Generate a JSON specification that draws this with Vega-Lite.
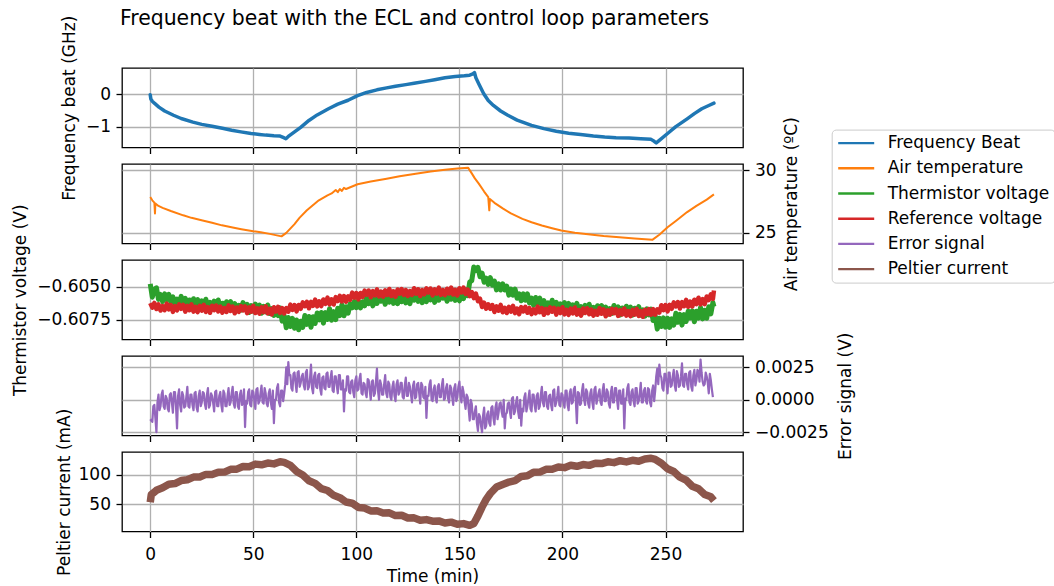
{
  "$schema": "https://vega.github.io/schema/vega-lite/v6.json",
  "padding": {"left": 10, "top": 9, "right": 0, "bottom": 2},
  "title": {
    "text": "Frequency beat with the ECL and control loop parameters",
    "anchor": "start",
    "frame": "group",
    "font": "DejaVu Sans",
    "fontSize": 20.4,
    "fontWeight": "normal",
    "color": "#000000",
    "offset": -15,
    "dx": -2
  },
  "config": {
    "font": "DejaVu Sans",
    "view": {"stroke": "#000000", "strokeWidth": 1.3},
    "axis": {
      "labelFont": "DejaVu Sans",
      "labelFontSize": 17,
      "labelColor": "#000000",
      "titleFont": "DejaVu Sans",
      "titleFontSize": 17,
      "titleFontWeight": "normal",
      "titleColor": "#000000",
      "gridColor": "#b0b0b0",
      "gridWidth": 1.3,
      "gridOpacity": 1,
      "domain": false,
      "tickColor": "#000000",
      "tickWidth": 1.3,
      "tickSize": 6,
      "labelPadding": 5.5
    },
    "axisY": {"titleAngle": 270, "titleBaseline": "alphabetic", "titleAlign": "center", "labelBaseline": "middle"},
    "axisX": {"labelBaseline": "alphabetic", "labelPadding": 21.5},
    "legend": {
      "symbolType": "stroke",
      "symbolSize": 1296,
      "symbolStrokeWidth": 2.4,
      "labelFont": "DejaVu Sans",
      "labelFontSize": 17,
      "labelColor": "#000000",
      "labelOffset": 12,
      "labelLimit": 0,
      "clipHeight": 17,
      "rowPadding": 7.2,
      "padding": 5,
      "strokeColor": "#cccccc",
      "fillColor": "#ffffff",
      "cornerRadius": 4
    }
  },
  "datasets": {
    "beat": [{"t":0,"v":-0.02},{"t":0.3,"v":-0.15},{"t":1,"v":-0.22},{"t":2,"v":-0.28},{"t":4.2,"v":-0.4},{"t":7,"v":-0.52},{"t":11.3,"v":-0.65},{"t":15,"v":-0.75},{"t":20.7,"v":-0.86},{"t":25,"v":-0.93},{"t":30,"v":-0.99},{"t":35,"v":-1.05},{"t":39.5,"v":-1.11},{"t":44,"v":-1.16},{"t":48.9,"v":-1.21},{"t":53,"v":-1.24},{"t":56,"v":-1.26},{"t":60,"v":-1.28},{"t":63,"v":-1.29},{"t":64.5,"v":-1.33},{"t":65.8,"v":-1.37},{"t":67,"v":-1.3},{"t":70,"v":-1.16},{"t":73,"v":-1.02},{"t":77,"v":-0.81},{"t":81,"v":-0.64},{"t":86.5,"v":-0.45},{"t":91,"v":-0.31},{"t":96,"v":-0.19},{"t":100.6,"v":-0.05},{"t":105,"v":0.05},{"t":110,"v":0.13},{"t":114.7,"v":0.19},{"t":119,"v":0.24},{"t":124,"v":0.29},{"t":128,"v":0.33},{"t":133.5,"v":0.39},{"t":138,"v":0.44},{"t":143,"v":0.5},{"t":148,"v":0.54},{"t":152.4,"v":0.56},{"t":155,"v":0.58},{"t":156.5,"v":0.62},{"t":157.3,"v":0.66},{"t":158,"v":0.5},{"t":159.5,"v":0.3},{"t":161.8,"v":0.01},{"t":164,"v":-0.2},{"t":166.5,"v":-0.35},{"t":170,"v":-0.52},{"t":173.5,"v":-0.65},{"t":178,"v":-0.8},{"t":185,"v":-0.96},{"t":191,"v":-1.06},{"t":197,"v":-1.14},{"t":203,"v":-1.2},{"t":208.8,"v":-1.24},{"t":215,"v":-1.29},{"t":220.5,"v":-1.32},{"t":226,"v":-1.34},{"t":232.3,"v":-1.35},{"t":238,"v":-1.37},{"t":243,"v":-1.39},{"t":244.5,"v":-1.45},{"t":245.5,"v":-1.5},{"t":247,"v":-1.42},{"t":251,"v":-1.21},{"t":255,"v":-1},{"t":260.5,"v":-0.76},{"t":264,"v":-0.6},{"t":267.6,"v":-0.45},{"t":271,"v":-0.35},{"t":273.5,"v":-0.28}],
    "air": [{"t":0,"v":27.86},{"t":1,"v":27.6},{"t":2,"v":27.42},{"t":2.3,"v":26.55},{"t":2.5,"v":27.35},{"t":4,"v":27.15},{"t":6,"v":27.0},{"t":10,"v":26.75},{"t":16,"v":26.4},{"t":20,"v":26.2},{"t":25.4,"v":25.99},{"t":30,"v":25.8},{"t":34.8,"v":25.6},{"t":40,"v":25.42},{"t":44.2,"v":25.29},{"t":50,"v":25.13},{"t":53.6,"v":25.05},{"t":58,"v":24.92},{"t":63.7,"v":24.72},{"t":66,"v":25.0},{"t":70,"v":25.7},{"t":72.4,"v":26.2},{"t":76,"v":26.8},{"t":81.8,"v":27.6},{"t":86,"v":28.0},{"t":88,"v":28.15},{"t":90,"v":28.42},{"t":91,"v":28.25},{"t":92,"v":28.5},{"t":93,"v":28.35},{"t":94,"v":28.6},{"t":95,"v":28.5},{"t":100.6,"v":28.88},{"t":107,"v":29.1},{"t":114.7,"v":29.33},{"t":121,"v":29.52},{"t":128.8,"v":29.73},{"t":136,"v":29.9},{"t":143,"v":30.05},{"t":149,"v":30.15},{"t":154.2,"v":30.21},{"t":156,"v":29.75},{"t":157.5,"v":29.35},{"t":159.4,"v":28.93},{"t":162,"v":28.3},{"t":164,"v":27.86},{"t":164.5,"v":26.8},{"t":164.8,"v":27.7},{"t":167,"v":27.4},{"t":171.2,"v":26.93},{"t":175,"v":26.55},{"t":180.6,"v":26.12},{"t":185,"v":25.85},{"t":190,"v":25.59},{"t":195,"v":25.37},{"t":199.4,"v":25.19},{"t":206,"v":25.0},{"t":213.5,"v":24.87},{"t":220,"v":24.75},{"t":227.6,"v":24.65},{"t":235,"v":24.55},{"t":243.6,"v":24.44},{"t":247,"v":24.85},{"t":251,"v":25.45},{"t":255,"v":25.95},{"t":260.5,"v":26.66},{"t":265,"v":27.15},{"t":270,"v":27.65},{"t":273.5,"v":28.07}],
    "therm": [{"t":0,"v":-0.6048},{"t":1,"v":-0.6058},{"t":2,"v":-0.6052},{"t":3,"v":-0.60509},{"t":4,"v":-0.60596},{"t":5,"v":-0.60559},{"t":6,"v":-0.60613},{"t":7,"v":-0.60555},{"t":8,"v":-0.60598},{"t":9,"v":-0.60559},{"t":10,"v":-0.60616},{"t":11,"v":-0.60577},{"t":12,"v":-0.60634},{"t":13,"v":-0.60594},{"t":14,"v":-0.60632},{"t":15,"v":-0.60574},{"t":16,"v":-0.60626},{"t":17,"v":-0.60589},{"t":18,"v":-0.60652},{"t":19,"v":-0.60601},{"t":20,"v":-0.60643},{"t":21,"v":-0.60591},{"t":22,"v":-0.60632},{"t":23,"v":-0.60598},{"t":24,"v":-0.60659},{"t":25,"v":-0.60607},{"t":26,"v":-0.60647},{"t":27,"v":-0.60595},{"t":28,"v":-0.60659},{"t":29,"v":-0.60618},{"t":30,"v":-0.60665},{"t":31,"v":-0.60609},{"t":32,"v":-0.60653},{"t":33,"v":-0.60601},{"t":34,"v":-0.60666},{"t":35,"v":-0.60625},{"t":36,"v":-0.60676},{"t":37,"v":-0.60614},{"t":38,"v":-0.60654},{"t":39,"v":-0.60613},{"t":40,"v":-0.60668},{"t":41,"v":-0.60627},{"t":42,"v":-0.60682},{"t":43,"v":-0.60641},{"t":44,"v":-0.60678},{"t":45,"v":-0.6062},{"t":46,"v":-0.60671},{"t":47,"v":-0.60633},{"t":48,"v":-0.60695},{"t":49,"v":-0.60643},{"t":50,"v":-0.60684},{"t":51,"v":-0.60632},{"t":52,"v":-0.60673},{"t":53,"v":-0.60639},{"t":54,"v":-0.60701},{"t":55,"v":-0.60649},{"t":56,"v":-0.6069},{"t":57,"v":-0.60638},{"t":58,"v":-0.60703},{"t":59,"v":-0.60666},{"t":60,"v":-0.60717},{"t":61,"v":-0.60667},{"t":62,"v":-0.60718},{"t":63,"v":-0.6066},{"t":64,"v":-0.6076},{"t":65,"v":-0.6072},{"t":66,"v":-0.6081},{"t":67,"v":-0.60732},{"t":68,"v":-0.608},{"t":69,"v":-0.60739},{"t":70,"v":-0.60813},{"t":71,"v":-0.60751},{"t":72,"v":-0.60825},{"t":73,"v":-0.60761},{"t":74,"v":-0.60807},{"t":75,"v":-0.60718},{"t":76,"v":-0.60784},{"t":77,"v":-0.60725},{"t":78,"v":-0.60806},{"t":79,"v":-0.60727},{"t":80,"v":-0.60778},{"t":81,"v":-0.60699},{"t":82,"v":-0.6075},{"t":83,"v":-0.60695},{"t":84,"v":-0.60775},{"t":85,"v":-0.60696},{"t":86,"v":-0.60747},{"t":87,"v":-0.60667},{"t":88,"v":-0.60753},{"t":89,"v":-0.60688},{"t":90,"v":-0.60749},{"t":91,"v":-0.60663},{"t":92,"v":-0.60718},{"t":93,"v":-0.60636},{"t":94,"v":-0.6072},{"t":95,"v":-0.60652},{"t":96,"v":-0.607},{"t":97,"v":-0.60629},{"t":98,"v":-0.6066},{"t":99,"v":-0.60612},{"t":100,"v":-0.60659},{"t":101,"v":-0.60612},{"t":102,"v":-0.6066},{"t":103,"v":-0.60614},{"t":104,"v":-0.60645},{"t":105,"v":-0.60582},{"t":106,"v":-0.60629},{"t":107,"v":-0.60587},{"t":108,"v":-0.60645},{"t":109,"v":-0.6059},{"t":110,"v":-0.60627},{"t":111,"v":-0.60572},{"t":112,"v":-0.6061},{"t":113,"v":-0.60574},{"t":114,"v":-0.60633},{"t":115,"v":-0.60579},{"t":116,"v":-0.60617},{"t":117,"v":-0.60563},{"t":118,"v":-0.60626},{"t":119,"v":-0.60583},{"t":120,"v":-0.60629},{"t":121,"v":-0.60571},{"t":122,"v":-0.60614},{"t":123,"v":-0.6056},{"t":124,"v":-0.60623},{"t":125,"v":-0.6058},{"t":126,"v":-0.60629},{"t":127,"v":-0.60565},{"t":128,"v":-0.60602},{"t":129,"v":-0.60559},{"t":130,"v":-0.60611},{"t":131,"v":-0.60568},{"t":132,"v":-0.60621},{"t":133,"v":-0.60578},{"t":134,"v":-0.60613},{"t":135,"v":-0.60552},{"t":136,"v":-0.606},{"t":137,"v":-0.6056},{"t":138,"v":-0.60619},{"t":139,"v":-0.60565},{"t":140,"v":-0.60603},{"t":141,"v":-0.60549},{"t":142,"v":-0.60587},{"t":143,"v":-0.60551},{"t":144,"v":-0.6061},{"t":145,"v":-0.60556},{"t":146,"v":-0.60595},{"t":147,"v":-0.60541},{"t":148,"v":-0.60604},{"t":149,"v":-0.60561},{"t":150,"v":-0.60607},{"t":151,"v":-0.60548},{"t":152,"v":-0.6059},{"t":153,"v":-0.60525},{"t":154,"v":-0.60568},{"t":155,"v":-0.60466},{"t":156,"v":-0.60455},{"t":157,"v":-0.60352},{"t":158,"v":-0.6038},{"t":159,"v":-0.60356},{"t":160,"v":-0.60426},{"t":161,"v":-0.60399},{"t":162,"v":-0.60467},{"t":163,"v":-0.60437},{"t":164,"v":-0.60483},{"t":165,"v":-0.60432},{"t":166,"v":-0.60489},{"t":167,"v":-0.60458},{"t":168,"v":-0.60525},{"t":169,"v":-0.6048},{"t":170,"v":-0.60526},{"t":171,"v":-0.6048},{"t":172,"v":-0.60525},{"t":173,"v":-0.60497},{"t":174,"v":-0.60564},{"t":175,"v":-0.60519},{"t":176,"v":-0.60565},{"t":177,"v":-0.60519},{"t":178,"v":-0.60588},{"t":179,"v":-0.60554},{"t":180,"v":-0.60607},{"t":181,"v":-0.60555},{"t":182,"v":-0.60603},{"t":183,"v":-0.60555},{"t":184,"v":-0.60624},{"t":185,"v":-0.60587},{"t":186,"v":-0.60641},{"t":187,"v":-0.60582},{"t":188,"v":-0.60625},{"t":189,"v":-0.60587},{"t":190,"v":-0.60644},{"t":191,"v":-0.60605},{"t":192,"v":-0.60662},{"t":193,"v":-0.60623},{"t":194,"v":-0.60661},{"t":195,"v":-0.60603},{"t":196,"v":-0.60655},{"t":197,"v":-0.60618},{"t":198,"v":-0.60681},{"t":199,"v":-0.6063},{"t":200,"v":-0.60671},{"t":201,"v":-0.6062},{"t":202,"v":-0.60661},{"t":203,"v":-0.60627},{"t":204,"v":-0.60689},{"t":205,"v":-0.60637},{"t":206,"v":-0.60678},{"t":207,"v":-0.60626},{"t":208,"v":-0.60691},{"t":209,"v":-0.6065},{"t":210,"v":-0.60697},{"t":211,"v":-0.60641},{"t":212,"v":-0.60685},{"t":213,"v":-0.60633},{"t":214,"v":-0.60697},{"t":215,"v":-0.60656},{"t":216,"v":-0.60706},{"t":217,"v":-0.60644},{"t":218,"v":-0.60683},{"t":219,"v":-0.60642},{"t":220,"v":-0.60696},{"t":221,"v":-0.60654},{"t":222,"v":-0.60708},{"t":223,"v":-0.60666},{"t":224,"v":-0.60702},{"t":225,"v":-0.60642},{"t":226,"v":-0.60692},{"t":227,"v":-0.60653},{"t":228,"v":-0.60714},{"t":229,"v":-0.60661},{"t":230,"v":-0.60701},{"t":231,"v":-0.60648},{"t":232,"v":-0.60688},{"t":233,"v":-0.60654},{"t":234,"v":-0.60715},{"t":235,"v":-0.60663},{"t":236,"v":-0.60703},{"t":237,"v":-0.60651},{"t":238,"v":-0.60716},{"t":239,"v":-0.60675},{"t":240,"v":-0.60723},{"t":241,"v":-0.60668},{"t":242,"v":-0.60713},{"t":243,"v":-0.6067},{"t":244,"v":-0.60755},{"t":245,"v":-0.60722},{"t":246,"v":-0.6082},{"t":247,"v":-0.60738},{"t":248,"v":-0.608},{"t":249,"v":-0.60735},{"t":250,"v":-0.60805},{"t":251,"v":-0.60738},{"t":252,"v":-0.60807},{"t":253,"v":-0.60743},{"t":254,"v":-0.6079},{"t":255,"v":-0.60701},{"t":256,"v":-0.60768},{"t":257,"v":-0.60709},{"t":258,"v":-0.6079},{"t":259,"v":-0.60711},{"t":260,"v":-0.60763},{"t":261,"v":-0.60685},{"t":262,"v":-0.60736},{"t":263,"v":-0.60682},{"t":264,"v":-0.60764},{"t":265,"v":-0.60685},{"t":266,"v":-0.60737},{"t":267,"v":-0.60657},{"t":268,"v":-0.60743},{"t":269,"v":-0.60678},{"t":270,"v":-0.60738},{"t":271,"v":-0.60651},{"t":272,"v":-0.60705},{"t":273,"v":-0.6062},{"t":273.5,"v":-0.6065}],
    "ref": [{"t":0,"v":-0.60624},{"t":1,"v":-0.60658},{"t":2,"v":-0.60623},{"t":3,"v":-0.60669},{"t":4,"v":-0.60634},{"t":5,"v":-0.6068},{"t":6,"v":-0.60646},{"t":7,"v":-0.60677},{"t":8,"v":-0.60628},{"t":9,"v":-0.60671},{"t":10,"v":-0.60639},{"t":11,"v":-0.6069},{"t":12,"v":-0.60646},{"t":13,"v":-0.60679},{"t":14,"v":-0.60634},{"t":15,"v":-0.60667},{"t":16,"v":-0.60638},{"t":17,"v":-0.60689},{"t":18,"v":-0.60645},{"t":19,"v":-0.60678},{"t":20,"v":-0.60634},{"t":21,"v":-0.60688},{"t":22,"v":-0.60653},{"t":23,"v":-0.60692},{"t":24,"v":-0.60645},{"t":25,"v":-0.60681},{"t":26,"v":-0.60637},{"t":27,"v":-0.60691},{"t":28,"v":-0.60655},{"t":29,"v":-0.60697},{"t":30,"v":-0.60644},{"t":31,"v":-0.60677},{"t":32,"v":-0.60642},{"t":33,"v":-0.60687},{"t":34,"v":-0.60651},{"t":35,"v":-0.60696},{"t":36,"v":-0.60661},{"t":37,"v":-0.60691},{"t":38,"v":-0.60641},{"t":39,"v":-0.60683},{"t":40,"v":-0.6065},{"t":41,"v":-0.60701},{"t":42,"v":-0.60657},{"t":43,"v":-0.6069},{"t":44,"v":-0.60646},{"t":45,"v":-0.60679},{"t":46,"v":-0.60649},{"t":47,"v":-0.607},{"t":48,"v":-0.60656},{"t":49,"v":-0.60689},{"t":50,"v":-0.60645},{"t":51,"v":-0.60699},{"t":52,"v":-0.60664},{"t":53,"v":-0.60703},{"t":54,"v":-0.60656},{"t":55,"v":-0.60692},{"t":56,"v":-0.60648},{"t":57,"v":-0.60702},{"t":58,"v":-0.60667},{"t":59,"v":-0.60709},{"t":60,"v":-0.60655},{"t":61,"v":-0.60688},{"t":62,"v":-0.60653},{"t":63,"v":-0.60698},{"t":64,"v":-0.60661},{"t":65,"v":-0.60702},{"t":66,"v":-0.60662},{"t":67,"v":-0.60689},{"t":68,"v":-0.60636},{"t":69,"v":-0.60675},{"t":70,"v":-0.60639},{"t":71,"v":-0.60686},{"t":72,"v":-0.60638},{"t":73,"v":-0.60667},{"t":74,"v":-0.60619},{"t":75,"v":-0.60648},{"t":76,"v":-0.60615},{"t":77,"v":-0.60663},{"t":78,"v":-0.60615},{"t":79,"v":-0.60645},{"t":80,"v":-0.60598},{"t":81,"v":-0.60649},{"t":82,"v":-0.60611},{"t":83,"v":-0.60647},{"t":84,"v":-0.60597},{"t":85,"v":-0.6063},{"t":86,"v":-0.60583},{"t":87,"v":-0.60634},{"t":88,"v":-0.60596},{"t":89,"v":-0.60635},{"t":90,"v":-0.60579},{"t":91,"v":-0.60609},{"t":92,"v":-0.6057},{"t":93,"v":-0.60611},{"t":94,"v":-0.60572},{"t":95,"v":-0.60613},{"t":96,"v":-0.60573},{"t":97,"v":-0.60599},{"t":98,"v":-0.60545},{"t":99,"v":-0.60584},{"t":100,"v":-0.60548},{"t":101,"v":-0.60596},{"t":102,"v":-0.60548},{"t":103,"v":-0.60578},{"t":104,"v":-0.6053},{"t":105,"v":-0.60561},{"t":106,"v":-0.6053},{"t":107,"v":-0.6058},{"t":108,"v":-0.60534},{"t":109,"v":-0.60566},{"t":110,"v":-0.60521},{"t":111,"v":-0.60574},{"t":112,"v":-0.60538},{"t":113,"v":-0.60576},{"t":114,"v":-0.60528},{"t":115,"v":-0.60563},{"t":116,"v":-0.60518},{"t":117,"v":-0.60571},{"t":118,"v":-0.60535},{"t":119,"v":-0.60576},{"t":120,"v":-0.60522},{"t":121,"v":-0.60554},{"t":122,"v":-0.60518},{"t":123,"v":-0.60562},{"t":124,"v":-0.60526},{"t":125,"v":-0.6057},{"t":126,"v":-0.60534},{"t":127,"v":-0.60563},{"t":128,"v":-0.60512},{"t":129,"v":-0.60553},{"t":130,"v":-0.6052},{"t":131,"v":-0.60571},{"t":132,"v":-0.60526},{"t":133,"v":-0.60558},{"t":134,"v":-0.60513},{"t":135,"v":-0.60545},{"t":136,"v":-0.60515},{"t":137,"v":-0.60566},{"t":138,"v":-0.60521},{"t":139,"v":-0.60553},{"t":140,"v":-0.60508},{"t":141,"v":-0.60562},{"t":142,"v":-0.60526},{"t":143,"v":-0.60564},{"t":144,"v":-0.60516},{"t":145,"v":-0.60552},{"t":146,"v":-0.60507},{"t":147,"v":-0.6056},{"t":148,"v":-0.60524},{"t":149,"v":-0.60566},{"t":150,"v":-0.60512},{"t":151,"v":-0.60544},{"t":152,"v":-0.60508},{"t":153,"v":-0.60555},{"t":154,"v":-0.60522},{"t":155,"v":-0.60572},{"t":156,"v":-0.60541},{"t":157,"v":-0.60587},{"t":158,"v":-0.60553},{"t":159,"v":-0.6061},{"t":160,"v":-0.60591},{"t":161,"v":-0.60654},{"t":162,"v":-0.60621},{"t":163,"v":-0.60666},{"t":164,"v":-0.60633},{"t":165,"v":-0.60667},{"t":166,"v":-0.60639},{"t":167,"v":-0.60691},{"t":168,"v":-0.60648},{"t":169,"v":-0.60682},{"t":170,"v":-0.60638},{"t":171,"v":-0.60693},{"t":172,"v":-0.60659},{"t":173,"v":-0.60699},{"t":174,"v":-0.60653},{"t":175,"v":-0.60689},{"t":176,"v":-0.60645},{"t":177,"v":-0.607},{"t":178,"v":-0.60665},{"t":179,"v":-0.60707},{"t":180,"v":-0.60654},{"t":181,"v":-0.60687},{"t":182,"v":-0.60652},{"t":183,"v":-0.60697},{"t":184,"v":-0.60662},{"t":185,"v":-0.60707},{"t":186,"v":-0.60671},{"t":187,"v":-0.60701},{"t":188,"v":-0.60651},{"t":189,"v":-0.60693},{"t":190,"v":-0.60661},{"t":191,"v":-0.60712},{"t":192,"v":-0.60667},{"t":193,"v":-0.607},{"t":194,"v":-0.60656},{"t":195,"v":-0.60689},{"t":196,"v":-0.6066},{"t":197,"v":-0.60711},{"t":198,"v":-0.60666},{"t":199,"v":-0.60699},{"t":200,"v":-0.60655},{"t":201,"v":-0.60709},{"t":202,"v":-0.60674},{"t":203,"v":-0.60713},{"t":204,"v":-0.60666},{"t":205,"v":-0.60702},{"t":206,"v":-0.60657},{"t":207,"v":-0.60711},{"t":208,"v":-0.60676},{"t":209,"v":-0.60718},{"t":210,"v":-0.60665},{"t":211,"v":-0.60698},{"t":212,"v":-0.60663},{"t":213,"v":-0.60708},{"t":214,"v":-0.60673},{"t":215,"v":-0.60718},{"t":216,"v":-0.60682},{"t":217,"v":-0.60712},{"t":218,"v":-0.60662},{"t":219,"v":-0.60704},{"t":220,"v":-0.60672},{"t":221,"v":-0.60723},{"t":222,"v":-0.60678},{"t":223,"v":-0.60711},{"t":224,"v":-0.60667},{"t":225,"v":-0.607},{"t":226,"v":-0.6067},{"t":227,"v":-0.60721},{"t":228,"v":-0.60677},{"t":229,"v":-0.6071},{"t":230,"v":-0.60665},{"t":231,"v":-0.60719},{"t":232,"v":-0.60684},{"t":233,"v":-0.60723},{"t":234,"v":-0.60675},{"t":235,"v":-0.60711},{"t":236,"v":-0.60667},{"t":237,"v":-0.60721},{"t":238,"v":-0.60685},{"t":239,"v":-0.60727},{"t":240,"v":-0.60674},{"t":241,"v":-0.60707},{"t":242,"v":-0.6067},{"t":243,"v":-0.60711},{"t":244,"v":-0.6067},{"t":245,"v":-0.60711},{"t":246,"v":-0.60671},{"t":247,"v":-0.60696},{"t":248,"v":-0.6064},{"t":249,"v":-0.60677},{"t":250,"v":-0.60639},{"t":251,"v":-0.60686},{"t":252,"v":-0.60637},{"t":253,"v":-0.60667},{"t":254,"v":-0.60619},{"t":255,"v":-0.60649},{"t":256,"v":-0.60616},{"t":257,"v":-0.60665},{"t":258,"v":-0.60617},{"t":259,"v":-0.60648},{"t":260,"v":-0.606},{"t":261,"v":-0.60652},{"t":262,"v":-0.60613},{"t":263,"v":-0.6065},{"t":264,"v":-0.60599},{"t":265,"v":-0.60632},{"t":266,"v":-0.60584},{"t":267,"v":-0.60634},{"t":268,"v":-0.60594},{"t":269,"v":-0.60632},{"t":270,"v":-0.60574},{"t":271,"v":-0.60601},{"t":272,"v":-0.60558},{"t":273,"v":-0.60593},{"t":273.5,"v":-0.6053}],
    "err": [{"t":0,"v":-0.0015},{"t":1,"v":-0.0017},{"t":2,"v":-0.0004},{"t":3,"v":-0.0025},{"t":4,"v":0.0004},{"t":5,"v":-0.0005},{"t":6,"v":0.0007},{"t":7,"v":-0.0007},{"t":8,"v":0.0001},{"t":9,"v":-0.0009},{"t":10,"v":0.0005},{"t":11,"v":-0.001},{"t":12,"v":0.0006},{"t":13,"v":-0.0022},{"t":14,"v":0.0008},{"t":15,"v":-0.0009},{"t":16,"v":0.0003},{"t":17,"v":-0.0005},{"t":18,"v":0.001},{"t":19,"v":-0.0006},{"t":20,"v":0.0004},{"t":21,"v":-0.0008},{"t":22,"v":0.0006},{"t":23,"v":-0.0009},{"t":24,"v":0.0007},{"t":25,"v":-0.0002},{"t":26,"v":0.0005},{"t":27,"v":-0.0007},{"t":28,"v":0.0009},{"t":29,"v":-0.0004},{"t":30,"v":0.0003},{"t":31,"v":-0.0009},{"t":32,"v":0.0007},{"t":33,"v":-0.0005},{"t":34,"v":0.0006},{"t":35,"v":-0.0009},{"t":36,"v":0.0005},{"t":37,"v":-0.0005},{"t":38,"v":0.0009},{"t":39,"v":-0.0002},{"t":40,"v":0.001},{"t":41,"v":-0.0006},{"t":42,"v":0.0006},{"t":43,"v":-0.0007},{"t":44,"v":0.0007},{"t":45,"v":-0.0002},{"t":46,"v":-0.0021},{"t":47,"v":-0.0003},{"t":48,"v":0.0008},{"t":49,"v":-0.0005},{"t":50,"v":0.0006},{"t":51,"v":-0.0007},{"t":52,"v":0.0009},{"t":53,"v":-0.0001},{"t":54,"v":0.0011},{"t":55,"v":-0.0003},{"t":56,"v":0.0005},{"t":57,"v":-0.0005},{"t":58,"v":0.0008},{"t":59,"v":-0.0007},{"t":60,"v":-0.0018},{"t":61,"v":0},{"t":62,"v":0.0012},{"t":63,"v":-0.0005},{"t":64,"v":0.0007},{"t":65,"v":0.0005},{"t":66,"v":0.0025},{"t":67,"v":0.0029},{"t":68,"v":0.0019},{"t":69,"v":0.0007},{"t":70,"v":0.0021},{"t":71,"v":0.0006},{"t":72,"v":0.0022},{"t":73,"v":0.0013},{"t":74,"v":0.002},{"t":75,"v":0.0008},{"t":76,"v":0.0023},{"t":77,"v":0.001},{"t":78,"v":0.0027},{"t":79,"v":0.0005},{"t":80,"v":0.0021},{"t":81,"v":0.0009},{"t":82,"v":0.002},{"t":83,"v":0.0004},{"t":84,"v":0.0018},{"t":85,"v":0.0008},{"t":86,"v":0.0021},{"t":87,"v":0.001},{"t":88,"v":0.0022},{"t":89,"v":0.0006},{"t":90,"v":0.0018},{"t":91,"v":0.0005},{"t":92,"v":0.0019},{"t":93,"v":0.0008},{"t":94,"v":-0.0009},{"t":95,"v":0.0007},{"t":96,"v":0.0018},{"t":97,"v":0.0005},{"t":98,"v":0.0015},{"t":99,"v":0.0002},{"t":100,"v":0.0018},{"t":101,"v":0.0008},{"t":102,"v":0.002},{"t":103,"v":0.0004},{"t":104,"v":0.0012},{"t":105,"v":0.0002},{"t":106,"v":0.0015},{"t":107,"v":0},{"t":108,"v":0.0015},{"t":109,"v":0.0005},{"t":110,"v":0.0024},{"t":111,"v":0},{"t":112,"v":0.0012},{"t":113,"v":0.0004},{"t":114,"v":0.0019},{"t":115,"v":0.0002},{"t":116,"v":0.0012},{"t":117,"v":0},{"t":118,"v":0.0014},{"t":119,"v":-0.0001},{"t":120,"v":0.0015},{"t":121,"v":0.0006},{"t":122,"v":0.0013},{"t":123,"v":0.0001},{"t":124,"v":0.0017},{"t":125,"v":0.0003},{"t":126,"v":0.001},{"t":127,"v":-0.0002},{"t":128,"v":0.0014},{"t":129,"v":0.0002},{"t":130,"v":0.0013},{"t":131,"v":-0.0003},{"t":132,"v":0.0011},{"t":133,"v":0.0001},{"t":134,"v":-0.0014},{"t":135,"v":0.0003},{"t":136,"v":0.0015},{"t":137,"v":-0.0001},{"t":138,"v":0.0011},{"t":139,"v":-0.0002},{"t":140,"v":0.0012},{"t":141,"v":0.0002},{"t":142,"v":0.0016},{"t":143,"v":0.0001},{"t":144,"v":0.0012},{"t":145,"v":-0.0002},{"t":146,"v":0.0009},{"t":147,"v":-0.0004},{"t":148,"v":0.0012},{"t":149,"v":0.0002},{"t":150,"v":0.0014},{"t":151,"v":-0.0002},{"t":152,"v":0.0006},{"t":153,"v":-0.0007},{"t":154,"v":0.0002},{"t":155,"v":-0.0016},{"t":156,"v":-0.0003},{"t":157,"v":-0.0015},{"t":158,"v":-0.0005},{"t":159,"v":-0.0024},{"t":160,"v":-0.0013},{"t":161,"v":-0.0025},{"t":162,"v":-0.0006},{"t":163,"v":-0.002},{"t":164,"v":-0.0009},{"t":165,"v":-0.002},{"t":166,"v":-0.0005},{"t":167,"v":-0.0019},{"t":168,"v":-0.0002},{"t":169,"v":-0.001},{"t":170,"v":-0.0002},{"t":171,"v":-0.0013},{"t":172,"v":-0.0022},{"t":173,"v":-0.001},{"t":174,"v":-0.0002},{"t":175,"v":-0.0014},{"t":176,"v":0.0002},{"t":177,"v":-0.0009},{"t":178,"v":0.0002},{"t":179,"v":-0.0014},{"t":180,"v":-0.002},{"t":181,"v":-0.0009},{"t":182,"v":0.0005},{"t":183,"v":-0.0005},{"t":184,"v":0.0007},{"t":185,"v":-0.0009},{"t":186,"v":0.0004},{"t":187,"v":-0.0009},{"t":188,"v":0.0005},{"t":189,"v":-0.0005},{"t":190,"v":0.001},{"t":191,"v":-0.0005},{"t":192,"v":0.0006},{"t":193,"v":-0.0007},{"t":194,"v":0.0004},{"t":195,"v":-0.0008},{"t":196,"v":0.0008},{"t":197,"v":-0.0002},{"t":198,"v":0.001},{"t":199,"v":-0.0005},{"t":200,"v":0.0004},{"t":201,"v":-0.0006},{"t":202,"v":0.0007},{"t":203,"v":-0.0008},{"t":204,"v":0.0008},{"t":205,"v":-0.0002},{"t":206,"v":0.001},{"t":207,"v":-0.0018},{"t":208,"v":0.0005},{"t":209,"v":-0.0003},{"t":210,"v":0.0012},{"t":211,"v":-0.0004},{"t":212,"v":0.0006},{"t":213,"v":-0.0006},{"t":214,"v":0.0008},{"t":215,"v":-0.0007},{"t":216,"v":0.001},{"t":217,"v":0.0001},{"t":218,"v":0.0008},{"t":219,"v":-0.0004},{"t":220,"v":0.0012},{"t":221,"v":-0.0001},{"t":222,"v":0.0006},{"t":223,"v":-0.0006},{"t":224,"v":0.001},{"t":225,"v":-0.0002},{"t":226,"v":0.0009},{"t":227,"v":-0.0007},{"t":228,"v":0.0007},{"t":229,"v":-0.0003},{"t":230,"v":-0.0022},{"t":231,"v":0},{"t":232,"v":0.0012},{"t":233,"v":-0.0004},{"t":234,"v":0.0008},{"t":235,"v":-0.0005},{"t":236,"v":0.0009},{"t":237,"v":-0.0001},{"t":238,"v":0.0013},{"t":239,"v":-0.0002},{"t":240,"v":0.0009},{"t":241,"v":-0.0003},{"t":242,"v":0.0008},{"t":243,"v":-0.0005},{"t":244,"v":0.0011},{"t":245,"v":0.0007},{"t":246,"v":0.0024},{"t":247,"v":0.0027},{"t":248,"v":0.0017},{"t":249,"v":0.0007},{"t":250,"v":0.002},{"t":251,"v":0.0005},{"t":252,"v":0.0021},{"t":253,"v":0.0011},{"t":254,"v":0.0023},{"t":255,"v":0.0007},{"t":256,"v":0.0019},{"t":257,"v":0.0011},{"t":258,"v":0.0028},{"t":259,"v":0.001},{"t":260,"v":0.002},{"t":261,"v":0.0008},{"t":262,"v":0.0022},{"t":263,"v":0.0007},{"t":264,"v":0.0023},{"t":265,"v":0.0015},{"t":266,"v":0.0022},{"t":267,"v":0.0031},{"t":268,"v":0.0014},{"t":269,"v":0.0012},{"t":270,"v":0.0018},{"t":271,"v":0.0005},{"t":272,"v":0.0015},{"t":273,"v":0.0002},
      {"t":0.5,"v":-0.0016},{"t":1.5,"v":-0.0005},{"t":2.5,"v":-0.0014},{"t":3.5,"v":-0.0002},{"t":4.5,"v":-0.0008},{"t":5.5,"v":0.0004},{"t":6.5,"v":-0.0005},{"t":7.5,"v":0.0003},{"t":8.5,"v":-0.0007},{"t":9.5,"v":0.0004},{"t":10.5,"v":-0.0002},{"t":11.5,"v":0.0006},{"t":12.5,"v":-0.0005},{"t":13.5,"v":0.0003},{"t":14.5,"v":-0.0004},{"t":15.5,"v":0.0006},{"t":16.5,"v":-0.0006},{"t":17.5,"v":0.0002},{"t":18.5,"v":-0.0005},{"t":19.5,"v":0.0004},{"t":20.5,"v":-0.0004},{"t":21.5,"v":0.0005},{"t":22.5,"v":-0.0006},{"t":23.5,"v":0.0003},{"t":24.5,"v":-0.0005},{"t":25.5,"v":0.0006},{"t":26.5,"v":-0.0003},{"t":27.5,"v":0.0004},{"t":28.5,"v":-0.0006},{"t":29.5,"v":0.0005},{"t":30.5,"v":-0.0002},{"t":31.5,"v":0.0006},{"t":32.5,"v":-0.0005},{"t":33.5,"v":0.0003},{"t":34.5,"v":-0.0004},{"t":35.5,"v":0.0007},{"t":36.5,"v":-0.0005},{"t":37.5,"v":0.0003},{"t":38.5,"v":-0.0004},{"t":39.5,"v":0.0005},{"t":40.5,"v":-0.0003},{"t":41.5,"v":0.0006},{"t":42.5,"v":-0.0005},{"t":43.5,"v":0.0004},{"t":44.5,"v":-0.0004},{"t":45.5,"v":0.0008},{"t":46.5,"v":-0.0001},{"t":47.5,"v":0.0006},{"t":48.5,"v":-0.0004},{"t":49.5,"v":0.0007},{"t":50.5,"v":0},{"t":51.5,"v":0.0008},{"t":52.5,"v":-0.0003},{"t":53.5,"v":0.0005},{"t":54.5,"v":-0.0002},{"t":55.5,"v":0.0009},{"t":56.5,"v":-0.0003},{"t":57.5,"v":0.0005},{"t":58.5,"v":-0.0002},{"t":59.5,"v":0.0007},{"t":60.5,"v":0},{"t":61.5,"v":0.0009},{"t":62.5,"v":-0.0002},{"t":63.5,"v":0.0007},{"t":64.5,"v":-0.0001},{"t":65.5,"v":0.0012},{"t":66.5,"v":0.0012},{"t":67.5,"v":0.0019},{"t":68.5,"v":0.0009},{"t":69.5,"v":0.002},{"t":70.5,"v":0.0013},{"t":71.5,"v":0.0021},{"t":72.5,"v":0.001},{"t":73.5,"v":0.0018},{"t":74.5,"v":0.0011},{"t":75.5,"v":0.0021},{"t":76.5,"v":0.0008},{"t":77.5,"v":0.0016},{"t":78.5,"v":0.0009},{"t":79.5,"v":0.0018},{"t":80.5,"v":0.001},{"t":81.5,"v":0.0019},{"t":82.5,"v":0.0008},{"t":83.5,"v":0.0017},{"t":84.5,"v":0.0009},{"t":85.5,"v":0.002},{"t":86.5,"v":0.001},{"t":87.5,"v":0.0017},{"t":88.5,"v":0.0007},{"t":89.5,"v":0.0018},{"t":90.5,"v":0.0011},{"t":91.5,"v":0.0019},{"t":92.5,"v":0.0008},{"t":93.5,"v":0.0015},{"t":94.5,"v":0.0008},{"t":95.5,"v":0.0018},{"t":96.5,"v":0.0006},{"t":97.5,"v":0.0014},{"t":98.5,"v":0.0006},{"t":99.5,"v":0.0015},{"t":100.5,"v":0.0007},{"t":101.5,"v":0.0016},{"t":102.5,"v":0.0005},{"t":103.5,"v":0.0013},{"t":104.5,"v":0.0005},{"t":105.5,"v":0.0016},{"t":106.5,"v":0.0007},{"t":107.5,"v":0.0014},{"t":108.5,"v":0.0003},{"t":109.5,"v":0.0014},{"t":110.5,"v":0.0007},{"t":111.5,"v":0.0015},{"t":112.5,"v":0.0004},{"t":113.5,"v":0.0012},{"t":114.5,"v":0.0005},{"t":115.5,"v":0.0014},{"t":116.5,"v":0.0002},{"t":117.5,"v":0.001},{"t":118.5,"v":0.0003},{"t":119.5,"v":0.0012},{"t":120.5,"v":0.0004},{"t":121.5,"v":0.0013},{"t":122.5,"v":0.0002},{"t":123.5,"v":0.0011},{"t":124.5,"v":0.0003},{"t":125.5,"v":0.0013},{"t":126.5,"v":0.0004},{"t":127.5,"v":0.0011},{"t":128.5,"v":0.0001},{"t":129.5,"v":0.0012},{"t":130.5,"v":0.0005},{"t":131.5,"v":0.0013},{"t":132.5,"v":0.0002},{"t":133.5,"v":0.001},{"t":134.5,"v":0.0003},{"t":135.5,"v":0.0012},{"t":136.5,"v":0},{"t":137.5,"v":0.0008},{"t":138.5,"v":0.0001},{"t":139.5,"v":0.001},{"t":140.5,"v":0.0002},{"t":141.5,"v":0.0011},{"t":142.5,"v":0},{"t":143.5,"v":0.0009},{"t":144.5,"v":0.0001},{"t":145.5,"v":0.0011},{"t":146.5,"v":0.0002},{"t":147.5,"v":0.0009},{"t":148.5,"v":-0.0001},{"t":149.5,"v":0.001},{"t":150.5,"v":0.0003},{"t":151.5,"v":0.001},{"t":152.5,"v":-0.0001},{"t":153.5,"v":0.0004},{"t":154.5,"v":-0.0007},{"t":155.5,"v":0},{"t":156.5,"v":-0.0015},{"t":157.5,"v":-0.0009},{"t":158.5,"v":-0.0018},{"t":159.5,"v":-0.0011},{"t":160.5,"v":-0.002},{"t":161.5,"v":-0.0012},{"t":162.5,"v":-0.0022},{"t":163.5,"v":-0.0011},{"t":164.5,"v":-0.0018},{"t":165.5,"v":-0.0006},{"t":166.5,"v":-0.0014},{"t":167.5,"v":-0.0006},{"t":168.5,"v":-0.0015},{"t":169.5,"v":-0.0003},{"t":170.5,"v":-0.0009},{"t":171.5,"v":0},{"t":172.5,"v":-0.0011},{"t":173.5,"v":-0.0003},{"t":174.5,"v":-0.0009},{"t":175.5,"v":0.0001},{"t":176.5,"v":-0.0011},{"t":177.5,"v":-0.0002},{"t":178.5,"v":-0.0009},{"t":179.5,"v":0},{"t":180.5,"v":-0.0007},{"t":181.5,"v":0.0002},{"t":182.5,"v":-0.0009},{"t":183.5,"v":0.0001},{"t":184.5,"v":-0.0007},{"t":185.5,"v":0.0004},{"t":186.5,"v":-0.0004},{"t":187.5,"v":0.0003},{"t":188.5,"v":-0.0007},{"t":189.5,"v":0.0004},{"t":190.5,"v":-0.0002},{"t":191.5,"v":0.0006},{"t":192.5,"v":-0.0005},{"t":193.5,"v":0.0003},{"t":194.5,"v":-0.0004},{"t":195.5,"v":0.0007},{"t":196.5,"v":-0.0005},{"t":197.5,"v":0.0003},{"t":198.5,"v":-0.0004},{"t":199.5,"v":0.0005},{"t":200.5,"v":-0.0002},{"t":201.5,"v":0.0007},{"t":202.5,"v":-0.0004},{"t":203.5,"v":0.0005},{"t":204.5,"v":-0.0003},{"t":205.5,"v":0.0008},{"t":206.5,"v":-0.0001},{"t":207.5,"v":0.0006},{"t":208.5,"v":-0.0004},{"t":209.5,"v":0.0007},{"t":210.5,"v":0},{"t":211.5,"v":0.0008},{"t":212.5,"v":-0.0003},{"t":213.5,"v":0.0005},{"t":214.5,"v":-0.0002},{"t":215.5,"v":0.0008},{"t":216.5,"v":-0.0003},{"t":217.5,"v":0.0005},{"t":218.5,"v":-0.0002},{"t":219.5,"v":0.0007},{"t":220.5,"v":-0.0001},{"t":221.5,"v":0.0008},{"t":222.5,"v":-0.0003},{"t":223.5,"v":0.0006},{"t":224.5,"v":-0.0002},{"t":225.5,"v":0.0009},{"t":226.5,"v":0},{"t":227.5,"v":0.0007},{"t":228.5,"v":-0.0003},{"t":229.5,"v":0.0008},{"t":230.5,"v":0.0001},{"t":231.5,"v":0.0009},{"t":232.5,"v":-0.0002},{"t":233.5,"v":0.0006},{"t":234.5,"v":-0.0001},{"t":235.5,"v":0.0009},{"t":236.5,"v":-0.0003},{"t":237.5,"v":0.0005},{"t":238.5,"v":-0.0002},{"t":239.5,"v":0.0007},{"t":240.5,"v":-0.0001},{"t":241.5,"v":0.0009},{"t":242.5,"v":-0.0002},{"t":243.5,"v":0.0007},{"t":244.5,"v":-0.0001},{"t":245.5,"v":0.0018},{"t":246.5,"v":0.0012},{"t":247.5,"v":0.0019},{"t":248.5,"v":0.0009},{"t":249.5,"v":0.002},{"t":250.5,"v":0.0013},{"t":251.5,"v":0.0021},{"t":252.5,"v":0.001},{"t":253.5,"v":0.0018},{"t":254.5,"v":0.0011},{"t":255.5,"v":0.0022},{"t":256.5,"v":0.001},{"t":257.5,"v":0.0018},{"t":258.5,"v":0.0011},{"t":259.5,"v":0.002},{"t":260.5,"v":0.0012},{"t":261.5,"v":0.0021},{"t":262.5,"v":0.001},{"t":263.5,"v":0.0019},{"t":264.5,"v":0.0011},{"t":265.5,"v":0.0023},{"t":266.5,"v":0.0014},{"t":267.5,"v":0.0021},{"t":268.5,"v":0.0011},{"t":269.5,"v":0.0021},{"t":270.5,"v":0.0013},{"t":271.5,"v":0.002},{"t":272.5,"v":0.0008}],
    "pelt": [{"t":0,"v":53},{"t":0.5,"v":66},{"t":3,"v":73.5},{"t":6,"v":77.8},{"t":9,"v":83.8},{"t":12,"v":84.9},{"t":15,"v":90.1},{"t":18,"v":91.4},{"t":21,"v":95.9},{"t":24,"v":96},{"t":27,"v":100.5},{"t":30,"v":100.3},{"t":33,"v":104.3},{"t":36,"v":104.4},{"t":39,"v":109.1},{"t":42,"v":109.4},{"t":45,"v":113.9},{"t":48,"v":113.5},{"t":51,"v":118},{"t":54,"v":116.8},{"t":57,"v":119.8},{"t":60,"v":118.4},{"t":63,"v":122.1},{"t":65,"v":121},{"t":68,"v":116},{"t":71,"v":105.5},{"t":74,"v":99.5},{"t":77,"v":89.8},{"t":80,"v":85.3},{"t":83,"v":76.4},{"t":86,"v":73.1},{"t":89,"v":64.9},{"t":92,"v":60.9},{"t":95,"v":53.5},{"t":98,"v":51.5},{"t":101,"v":44.3},{"t":104,"v":43.3},{"t":107,"v":38.4},{"t":110,"v":38.6},{"t":113,"v":34.9},{"t":116,"v":35.2},{"t":119,"v":30.5},{"t":122,"v":31},{"t":125,"v":26.3},{"t":128,"v":26.6},{"t":131,"v":22.4},{"t":134,"v":23.6},{"t":137,"v":20.9},{"t":140,"v":21.4},{"t":143,"v":17.8},{"t":146,"v":19.3},{"t":149,"v":15.8},{"t":152,"v":16.8},{"t":155,"v":13.9},{"t":157,"v":17},{"t":159,"v":30},{"t":161,"v":45},{"t":163,"v":58},{"t":165,"v":68},{"t":168,"v":79.1},{"t":171,"v":83.4},{"t":174,"v":87.4},{"t":177,"v":90},{"t":180,"v":97},{"t":183,"v":98.3},{"t":186,"v":104.3},{"t":189,"v":104.4},{"t":192,"v":109.1},{"t":195,"v":109.4},{"t":198,"v":113.2},{"t":201,"v":112},{"t":204,"v":116},{"t":207,"v":114.3},{"t":210,"v":117.3},{"t":213,"v":115.9},{"t":216,"v":119.6},{"t":219,"v":118.9},{"t":222,"v":121.9},{"t":225,"v":120.5},{"t":228,"v":123.8},{"t":231,"v":121.8},{"t":234,"v":124.5},{"t":237,"v":122.8},{"t":240,"v":126.6},{"t":243,"v":128},{"t":245,"v":126},{"t":248,"v":119.4},{"t":251,"v":110},{"t":254,"v":105.5},{"t":257,"v":95.8},{"t":260,"v":90.8},{"t":263,"v":80.4},{"t":266,"v":76.1},{"t":269,"v":66.4},{"t":272,"v":62.4},{"t":273.5,"v":56}]
  },
  "bounds": "flush",
  "spacing": 16,
  "resolve": {"scale": {"color": "shared"}, "legend": {"color": "shared"}},
  "vconcat": [
    {
      "width": 621,
      "height": 79.5,
      "data": {"name": "beat"},
      "mark": {"type": "line", "strokeWidth": 3.5, "strokeJoin": "round", "strokeCap": "round"},
      "encoding": {
        "x": {"field": "t", "type": "quantitative", "scale": {"domain": [-13.7, 287.6], "nice": false, "zero": false}, "axis": {"values": [0, 50, 100, 150, 200, 250], "labels": false, "title": null}},
        "y": {"field": "v", "type": "quantitative", "scale": {"domain": [-1.64, 0.8], "nice": false, "zero": false}, "axis": {"values": [-1, 0], "format": "d", "title": "Frequency beat (GHz)", "titleX": -48, "titleY": 39.75}},
        "color": {
          "datum": "Frequency Beat",
          "type": "nominal",
          "scale": {"domain": ["Frequency Beat", "Air temperature", "Thermistor voltage", "Reference voltage", "Error signal", "Peltier current"], "range": ["#1f77b4", "#ff7f0e", "#2ca02c", "#d62728", "#9467bd", "#8c564b"]},
          "legend": {"title": null, "orient": "none", "legendX": 709.7, "legendY": 61.6}
        }
      }
    },
    {
      "width": 621,
      "height": 79.5,
      "data": {"name": "air"},
      "mark": {"type": "line", "strokeWidth": 2, "strokeJoin": "round"},
      "encoding": {
        "x": {"field": "t", "type": "quantitative", "scale": {"domain": [-13.7, 287.6], "nice": false, "zero": false}, "axis": {"values": [0, 50, 100, 150, 200, 250], "labels": false, "title": null}},
        "y": {"field": "v", "type": "quantitative", "scale": {"domain": [24.15, 30.5], "nice": false, "zero": false}, "axis": {"orient": "right", "values": [25, 30], "format": "d", "title": "Air temperature (ºC)", "titleX": 53, "titleY": 39.75}},
        "color": {"datum": "Air temperature", "type": "nominal"}
      }
    },
    {
      "width": 621,
      "height": 79.5,
      "encoding": {
        "x": {"field": "t", "type": "quantitative", "scale": {"domain": [-13.7, 287.6], "nice": false, "zero": false}, "axis": {"values": [0, 50, 100, 150, 200, 250], "labels": false, "title": null}},
        "y": {"field": "v", "type": "quantitative", "scale": {"domain": [-0.60898, -0.603], "nice": false, "zero": false}, "axis": {"values": [-0.6075, -0.605], "format": ".4f", "title": "Thermistor voltage (V)", "titleX": -97, "titleY": 39.75}}
      },
      "layer": [
        {
          "data": {"name": "therm"},
          "mark": {"type": "line", "strokeWidth": 5, "strokeJoin": "round"},
          "encoding": {"color": {"datum": "Thermistor voltage", "type": "nominal"}}
        },
        {
          "data": {"name": "ref"},
          "mark": {"type": "line", "strokeWidth": 4.5, "strokeJoin": "round"},
          "encoding": {"color": {"datum": "Reference voltage", "type": "nominal"}}
        }
      ]
    },
    {
      "width": 621,
      "height": 79.5,
      "data": {"name": "err"},
      "mark": {"type": "line", "strokeWidth": 2.2, "strokeJoin": "round"},
      "encoding": {
        "x": {"field": "t", "type": "quantitative", "scale": {"domain": [-13.7, 287.6], "nice": false, "zero": false}, "axis": {"values": [0, 50, 100, 150, 200, 250], "labels": false, "title": null}},
        "y": {"field": "v", "type": "quantitative", "scale": {"domain": [-0.00275, 0.00337], "nice": false, "zero": false}, "axis": {"orient": "right", "values": [-0.0025, 0, 0.0025], "format": ".4f", "title": "Error signal (V)", "titleX": 107, "titleY": 39.75}},
        "color": {"datum": "Error signal", "type": "nominal"}
      }
    },
    {
      "width": 621,
      "height": 79.5,
      "data": {"name": "pelt"},
      "mark": {"type": "line", "strokeWidth": 7.5, "strokeJoin": "round"},
      "encoding": {
        "x": {"field": "t", "type": "quantitative", "scale": {"domain": [-13.7, 287.6], "nice": false, "zero": false}, "axis": {"values": [0, 50, 100, 150, 200, 250], "format": "d", "title": "Time (min)", "titleY": 50, "titleBaseline": "alphabetic"}},
        "y": {"field": "v", "type": "quantitative", "scale": {"domain": [3.4, 138.6], "nice": false, "zero": false}, "axis": {"values": [50, 100], "format": "d", "title": "Peltier current (mA)", "titleX": -53, "titleY": 39.75}},
        "color": {"datum": "Peltier current", "type": "nominal"}
      }
    }
  ]
}
